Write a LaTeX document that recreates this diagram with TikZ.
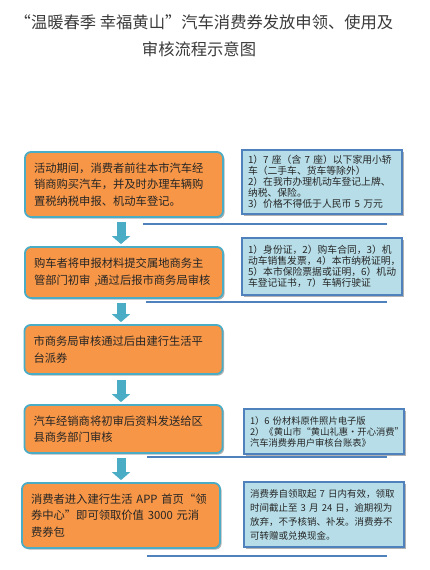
\documentclass[tikz,border=0pt]{standalone}
\usepackage{fontspec}
\setmainfont{Noto Sans CJK SC}
\usetikzlibrary{arrows.meta,shadows}
\definecolor{orangefill}{HTML}{F79646}
\definecolor{aquaborder}{HTML}{4BACC6}
\definecolor{bluefill}{HTML}{B7DEE8}
\definecolor{blueborder}{HTML}{4F81BD}
\definecolor{titlegray}{HTML}{3A3A3A}
\begin{document}
\begin{tikzpicture}[x=1pt,y=-1pt,
  stepbox/.style={draw=aquaborder, line width=1.8pt, fill=orangefill, rounded corners=6pt,
    text width=180pt, align=left, inner sep=0pt, minimum width=198pt,
    font=\fontsize{11.3}{16.5}\selectfont, text=black!85,
    drop shadow={shadow xshift=1.6pt, shadow yshift=-1.6pt, fill=black, opacity=0.3}},
  notebox/.style={draw=blueborder, line width=1.1pt, fill=bluefill,
    text width=148pt, align=left, inner sep=0pt, minimum width=160pt,
    font=\fontsize{9.8}{11}\selectfont, text=black!85,
    drop shadow={shadow xshift=1.6pt, shadow yshift=-1.6pt, fill=black, opacity=0.3}},
  flowarrow/.style={draw=aquaborder, line width=9pt, -{Triangle[width=18pt,length=8pt]}},
  sepline/.style={draw=blueborder, line width=1.2pt},
  titletext/.style={font=\fontsize{16.3}{20}\selectfont, text=titlegray, inner sep=0pt}]
\useasboundingbox (0,0) rectangle (429,570);

\node[titletext] (t1) at (204,22) {“温暖春季 幸福黄山”汽车消费券发放申领、使用及};
\node[titletext] (t2) at (199,49) {审核流程示意图};

\node[stepbox, minimum height=65pt] (b1) at (124,184.5)
  {活动期间，消费者前往本市汽车经\\销商购买汽车，并及时办理车辆购\\置税纳税申报、机动车登记。};
\node[stepbox, minimum height=51pt] (b2) at (124,272.5)
  {购车者将申报材料提交属地商务主\\管部门初审~,通过后报市商务局审核};
\node[stepbox, minimum height=49pt] (b3) at (123.5,349.5)
  {市商务局审核通过后由建行生活平\\台派券};
\node[stepbox, minimum height=48pt] (b4) at (123.5,429)
  {汽车经销商将初审后资料发送给区\\县商务部门审核};
\node[stepbox, minimum height=65pt] (b5) at (121,515.5)
  {消费者进入建行生活~APP~首页“领\\券中心”即可领取价值~3000~元消\\费券包};

\node[notebox, minimum height=64pt] (n1) at (322,182)
  {1）7~座（含~7~座）以下家用小轿\\车（二手车、货车等除外）\\2）在我市办理机动车登记上牌、\\纳税、保险。\\3）价格不得低于人民币~5~万元};
\node[notebox, minimum height=57pt] (n2) at (322,266.5)
  {1）身份证，2）购车合同，3）机\\动车销售发票，4）本市纳税证明，\\5）本市保险票据或证明，6）机动\\车登记证书，7）车辆行驶证};
\node[notebox, minimum height=45pt, font=\fontsize{9.3}{11}\selectfont] (n4) at (324,431.5)
  {1）6~份材料原件照片电子版\\2）《黄山市“黄山礼惠·开心消费”\\汽车消费券用户审核台账表》};
\node[notebox, minimum height=65pt, font=\fontsize{9.5}{14}\selectfont] (n5) at (324,514.5)
  {消费券自领取起~7~日内有效，领取\\时间截止至~3~月~24~日，逾期视为\\放弃，不予核销、补发。消费券不\\可转赠或兑换现金。};

\draw[flowarrow] ([xshift=-3pt,yshift=-4pt]b1.south) -- ([xshift=-3pt,yshift=2pt]b2.north);
\draw[flowarrow] ([xshift=-3pt,yshift=-4pt]b2.south) -- ([xshift=-2.5pt,yshift=2pt]b3.north);
\draw[flowarrow] ([xshift=-2.5pt,yshift=-5pt]b3.south) -- ([xshift=-2.5pt,yshift=2pt]b4.north);
\draw[flowarrow] ([xshift=-2.5pt,yshift=-4pt]b4.south) -- ([xshift=0pt,yshift=2pt]b5.north);

\draw[sepline] (143,224) -- (387,224);
\draw[sepline] (146,302) -- (387,302);
\draw[sepline] (147,457) -- (387,457);
\draw[sepline] (147,556) -- (387,556);
\end{tikzpicture}
\end{document}
